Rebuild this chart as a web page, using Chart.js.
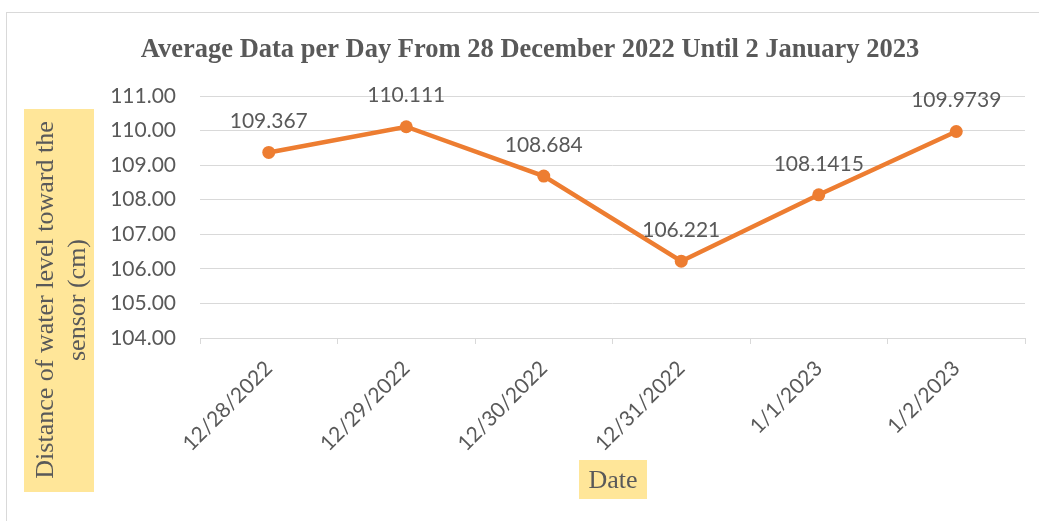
<!DOCTYPE html>
<html>
<head>
<meta charset="utf-8">
<script src="https://cdn.jsdelivr.net/npm/chart.js@4.4.0/dist/chart.umd.min.js"></script>
<style>
  html, body { margin: 0; padding: 0; background: #fff; }
  #wrap { position: relative; width: 1039px; height: 521px; }
</style>
</head>
<body>
<div id="wrap"><canvas id="c" width="1039" height="521"></canvas></div>
<script>
const categories = ["12/28/2022", "12/29/2022", "12/30/2022", "12/31/2022", "1/1/2023", "1/2/2023"];
const values = [109.367, 110.111, 108.684, 106.221, 108.1415, 109.9739];
const valueLabels = ["109.367", "110.111", "108.684", "106.221", "108.1415", "109.9739"];
const yTicks = [104, 105, 106, 107, 108, 109, 110, 111];
const titleText = "Average Data per Day From 28 December 2022 Until 2 January 2023";
const yTitleLines = ["Distance of water level toward the", "sensor (cm)"];
const xTitleText = "Date";

const TEXT = "#595959";
const GRID = "#d9d9d9";
const ORANGE = "#ED7D31";
const YELLOW = "#FFE699";
const TICK_FONT = "Lato";

const decorPlugin = {
  id: "decor",
  beforeDraw(chart) {
    const ctx = chart.ctx;
    ctx.save();
    ctx.fillStyle = "#fff";
    ctx.fillRect(0, 0, chart.width, chart.height);
    ctx.strokeStyle = GRID;
    ctx.lineWidth = 1;
    ctx.strokeRect(6.5, 12.5, 1100, 600);
    // title
    ctx.fillStyle = TEXT;
    ctx.font = "bold 26.5px 'Liberation Serif'";
    ctx.textAlign = "center";
    ctx.textBaseline = "middle";
    ctx.fillText(titleText, 530, 50);
    // y title box
    ctx.fillStyle = YELLOW;
    ctx.fillRect(24, 109, 70, 383);
    ctx.fillStyle = TEXT;
    ctx.font = "26px 'Liberation Serif'";
    ctx.translate(59, 300);
    ctx.rotate(-Math.PI / 2);
    ctx.textBaseline = "alphabetic";
    ctx.fillText(yTitleLines[0], 0, -6);
    ctx.fillText(yTitleLines[1], 0, 26);
    ctx.restore();
    // x title
    ctx.save();
    ctx.fillStyle = YELLOW;
    ctx.fillRect(579, 460, 68, 39);
    ctx.fillStyle = TEXT;
    ctx.font = "26px 'Liberation Serif'";
    ctx.textAlign = "center";
    ctx.textBaseline = "middle";
    ctx.fillText(xTitleText, 613, 481);
    ctx.restore();
  },
  afterDatasetsDraw(chart) {
    const ctx = chart.ctx;
    const meta = chart.getDatasetMeta(0);
    ctx.save();
    ctx.fillStyle = TEXT;
    ctx.font = "21px " + TICK_FONT;
    ctx.textAlign = "center";
    ctx.textBaseline = "middle";
    meta.data.forEach((pt, i) => {
      ctx.fillText(valueLabels[i], pt.x, pt.y - 31);
    });
    ctx.restore();
  }
};

new Chart(document.getElementById("c"), {
  type: "line",
  data: {
    labels: categories,
    datasets: [{
      data: values,
      borderColor: ORANGE,
      backgroundColor: ORANGE,
      borderWidth: 4.5,
      pointRadius: 6.5,
      pointBackgroundColor: ORANGE,
      pointBorderWidth: 0,
      tension: 0
    }]
  },
  options: {
    responsive: false,
    animation: false,
    layout: { padding: { left: 0, top: 96, right: 14, bottom: 0 } },
    plugins: { legend: { display: false }, title: { display: false }, tooltip: { enabled: false } },
    scales: {
      x: {
        offset: true,
        grid: { offset: true, drawOnChartArea: false, drawTicks: true, tickLength: 6, color: GRID, lineWidth: 1 },
        border: { display: true, color: GRID, width: 1 },
        ticks: { color: TEXT, font: { family: TICK_FONT, size: 21 }, minRotation: 45, maxRotation: 45, padding: 12, autoSkip: false },
        afterFit(s) { s.height = 521 - 338; }
      },
      y: {
        min: 104, max: 111,
        afterBuildTicks(s) { s.ticks = yTicks.map(v => ({ value: v })); },
        grid: { color: GRID, lineWidth: 1, drawTicks: false },
        border: { display: false },
        ticks: { color: TEXT, font: { family: TICK_FONT, size: 21 }, padding: 24, callback: v => Number(v).toFixed(2) },
        afterFit(s) { s.width = 200; }
      }
    }
  },
  plugins: [decorPlugin]
});
</script>
</body>
</html>
